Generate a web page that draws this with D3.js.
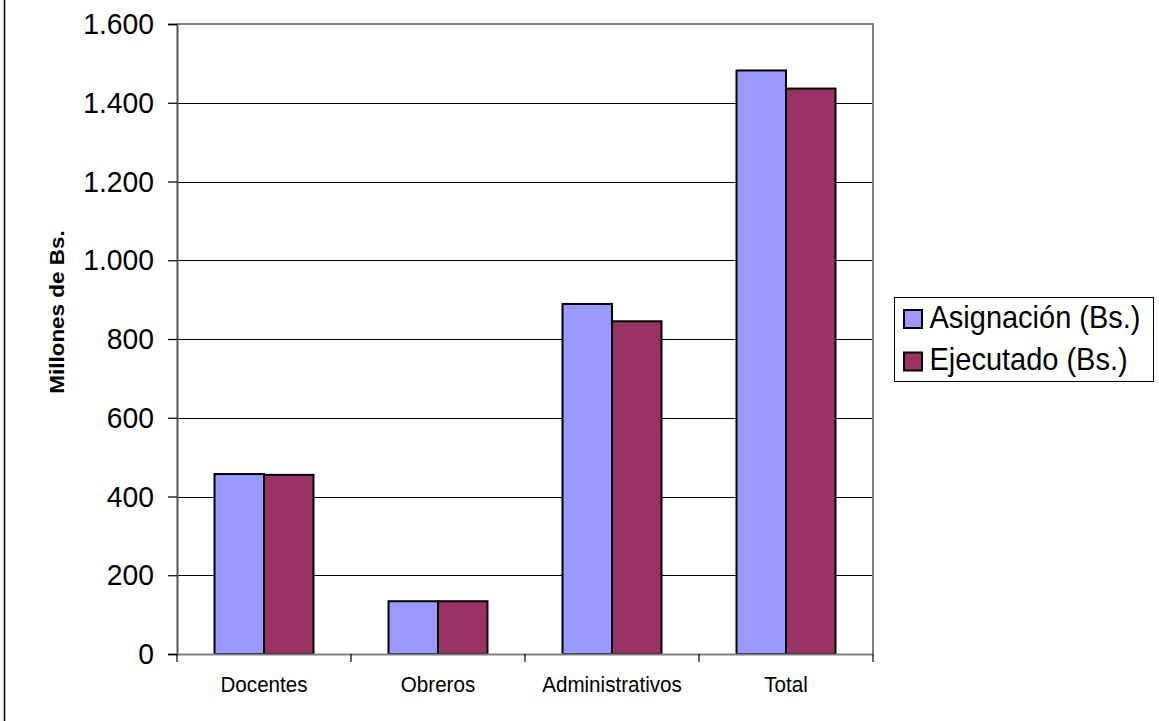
<!DOCTYPE html>
<html>
<head>
<meta charset="utf-8">
<script src="https://cdn.jsdelivr.net/npm/d3@7"></script>
<style>
  html, body { margin: 0; padding: 0; background: #fff; }
  svg { display: block; font-family: "Liberation Sans", Arial, sans-serif; }
</style>
</head>
<body>
<svg id="chart" width="1159" height="721"></svg>
<script>
const categories = ["Docentes", "Obreros", "Administrativos", "Total"];
const seriesNames = ["Asignación (Bs.)", "Ejecutado (Bs.)"];
const asignacion = [457, 134, 889, 1482];
const ejecutado = [455, 134, 845, 1436];
const yTicks = [0, 200, 400, 600, 800, 1000, 1200, 1400, 1600];
const colors = ["#9999FF", "#993366"];
const yTitle = "Millones de Bs.";

const svg = d3.select("#chart");
const W = 1159, H = 721;
const plot = { left: 177, right: 873, top: 24, bottom: 654 };
const VS = 1.07; // vertical stretch of glyphs seen in the reference

const locale = d3.formatLocale({ decimal: ",", thousands: ".", grouping: [3], currency: ["", ""] });
const fmt = locale.format(",d");

const x0 = d3.scaleBand().domain(categories).range([plot.left, plot.right]).paddingInner(0).paddingOuter(0);
const x1 = d3.scaleBand().domain(seriesNames).range([0, x0.bandwidth()]).paddingInner(0).paddingOuter(0.758);
const y = d3.scaleLinear().domain([0, 1600]).range([plot.bottom, plot.top]);

// outer chart border (left edge visible)
svg.append("line").attr("x1", 4.5).attr("x2", 4.5).attr("y1", 0).attr("y2", H)
  .attr("stroke", "#000").attr("stroke-width", 1.5);

// gridlines
svg.append("g").selectAll("line").data(yTicks.filter(d => d > 0 && d < 1600)).join("line")
  .attr("x1", plot.left).attr("x2", plot.right)
  .attr("y1", d => Math.round(y(d)) + 0.5).attr("y2", d => Math.round(y(d)) + 0.5)
  .attr("stroke", "#000").attr("stroke-width", 1);

// plot border top/right
svg.append("path")
  .attr("d", `M${plot.left},${plot.top} H${plot.right} V${plot.bottom}`)
  .attr("fill", "none").attr("stroke", "#808080").attr("stroke-width", 2);

// bars
const data = categories.map((c, i) => ({ cat: c, vals: [asignacion[i], ejecutado[i]] }));
const groups = svg.append("g").selectAll("g").data(data).join("g")
  .attr("transform", d => `translate(${x0(d.cat)},0)`);
groups.selectAll("rect").data(d => d.vals.map((v, j) => ({ v, s: seriesNames[j], j }))).join("rect")
  .attr("x", d => x1(d.s))
  .attr("width", x1.bandwidth())
  .attr("y", d => y(d.v))
  .attr("height", d => y(0) - y(d.v))
  .attr("fill", d => colors[d.j])
  .attr("stroke", "#000").attr("stroke-width", 2);

// y axis
const yAxis = d3.axisLeft(y).tickValues(yTicks).tickFormat(fmt).tickSize(9).tickPadding(14);
const gy = svg.append("g").attr("transform", `translate(${plot.left},0)`).call(yAxis);
gy.select(".domain").attr("stroke", "#555").attr("stroke-width", 2);
gy.selectAll(".tick line").attr("stroke", "#000").attr("stroke-width", 1.2);
gy.selectAll(".tick text").attr("font-size", 28.3).attr("fill", "#000")
  .attr("font-family", "'Liberation Sans', Arial, sans-serif")
  .attr("transform", `scale(1,${VS})`);

// x axis
const xAxis = d3.axisBottom(x0).tickSize(0).tickPadding(0);
const gx = svg.append("g").attr("transform", `translate(0,${plot.bottom})`).call(xAxis);
gx.select(".domain").attr("stroke", "#808080").attr("stroke-width", 2);
gx.selectAll(".tick text").attr("font-size", 20.6).attr("fill", "#000").attr("dy", 0).attr("y", 0)
  .attr("font-family", "'Liberation Sans', Arial, sans-serif")
  .attr("transform", `translate(0,38.3) scale(1,${VS})`);
// category boundary ticks
const bounds = categories.map(c => x0(c)).concat([plot.right]);
svg.append("g").selectAll("line").data(bounds).join("line")
  .attr("x1", d => d).attr("x2", d => d)
  .attr("y1", plot.bottom).attr("y2", plot.bottom + 8)
  .attr("stroke", "#000").attr("stroke-width", 1.2);

// y title
svg.append("text")
  .attr("transform", `translate(63.5,312) rotate(-90) scale(${VS},1)`)
  .attr("text-anchor", "middle")
  .attr("font-size", 21).attr("font-weight", "bold").attr("fill", "#000")
  .text(yTitle);

// legend
const lg = svg.append("g");
lg.append("rect").attr("x", 894.5).attr("y", 297.5).attr("width", 259).attr("height", 84)
  .attr("fill", "#fff").attr("stroke", "#000").attr("stroke-width", 1);
const items = lg.selectAll("g").data(seriesNames).join("g")
  .attr("transform", (d, i) => `translate(0,${i * 42.5})`);
items.append("rect").attr("x", 904).attr("y", 310).attr("width", 18).attr("height", 18)
  .attr("fill", (d, i) => colors[i]).attr("stroke", "#000").attr("stroke-width", 2);
items.append("text").attr("transform", `translate(929.5,327.5) scale(1,${VS})`)
  .attr("font-size", 29).attr("fill", "#000").text(d => d);
</script>
</body>
</html>
